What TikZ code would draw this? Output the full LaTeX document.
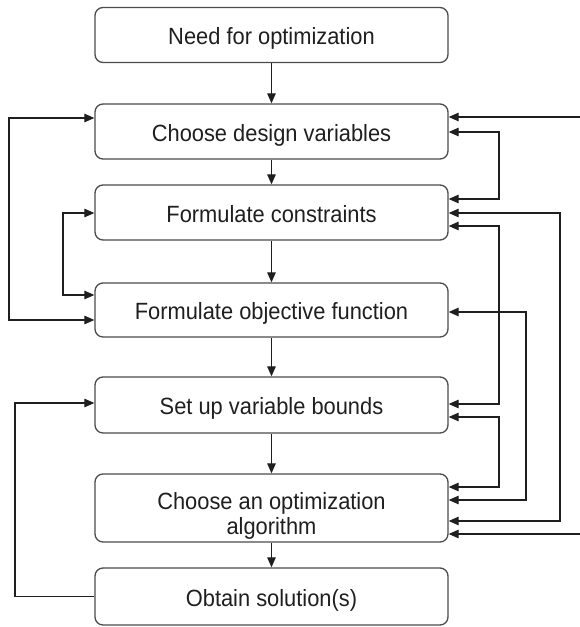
\documentclass[tikz,border=0pt]{standalone}
\usepackage{fontspec}
\setmainfont{Liberation Sans}[FakeStretch=0.93]
\usetikzlibrary{arrows.meta}
\begin{document}
\begin{tikzpicture}[x=1pt,y=-1pt,
  >={Triangle[length=10pt,width=8.5pt]},
  box/.style={draw=black!70, line width=1.3pt, rounded corners=8pt, minimum width=353pt, inner sep=0pt},
  lbl/.style={font=\fontsize{23.5}{25}\selectfont, text=black!88, align=center, inner sep=0pt},
  oneline/.style={text height=19pt, text depth=0pt},
  conn/.style={draw=black!88, line width=1.2pt}]
\useasboundingbox[fill=white] (0,0) rectangle (579,627);
% boxes
\node[box, lbl, oneline, minimum height=55pt] (b1) at (271.5,35) {Need for optimization};
\node[box, lbl, oneline, minimum height=55pt] (b2) at (271.5,131.5) {Choose design variables};
\node[box, lbl, oneline, minimum height=55pt] (b3) at (271.5,212.5) {Formulate constraints};
\node[box, lbl, oneline, minimum height=54pt] (b4) at (271.5,310) {Formulate objective function};
\node[box, lbl, oneline, minimum height=56pt] (b5) at (271.5,405) {Set up variable bounds};
\node[box, minimum height=68pt] (b6) at (271.5,508) {};
\node[lbl] (b6t) at (271.5,516) {Choose an optimization\\algorithm};
\node[box, lbl, oneline, minimum height=57pt] (b7) at (271.5,596.5) {Obtain solution(s)};
% main flow
\draw[conn,->] (b1.south) -- (b2.north);
\draw[conn,->] (b2.south) -- (b3.north);
\draw[conn,->] (b3.south) -- (b4.north);
\draw[conn,->] (b4.south) -- (b5.north);
\draw[conn,->] (b5.south) -- (b6.north);
\draw[conn,->] (b6.south) -- (b7.north);
% left loops
\draw[conn,<->] (b2.west |- 0,118) -| (9,320) -- (b4.west |- 0,320);
\draw[conn,<->] (b3.west |- 0,213) -| (63,295) -- (b4.west |- 0,295);
\draw[conn,->] (b7.west) -| (15,403) -- (b5.west |- 0,403);
% right loops
\draw[conn,<->] (b2.east |- 0,117) -| (592,534) -- (b6.east |- 0,534);
\draw[conn,<->] (b2.east |- 0,132) -| (499,199) -- (b3.east |- 0,199);
\draw[conn,<->] (b3.east |- 0,213) -| (560,521) -- (b6.east |- 0,521);
\draw[conn,<->] (b3.east |- 0,226) -| (499,404) -- (b5.east |- 0,404);
\draw[conn,<->] (b4.east |- 0,312) -| (526,500) -- (b6.east |- 0,500);
\draw[conn,<->] (b5.east |- 0,417) -| (499,487) -- (b6.east |- 0,487);
\end{tikzpicture}
\end{document}
